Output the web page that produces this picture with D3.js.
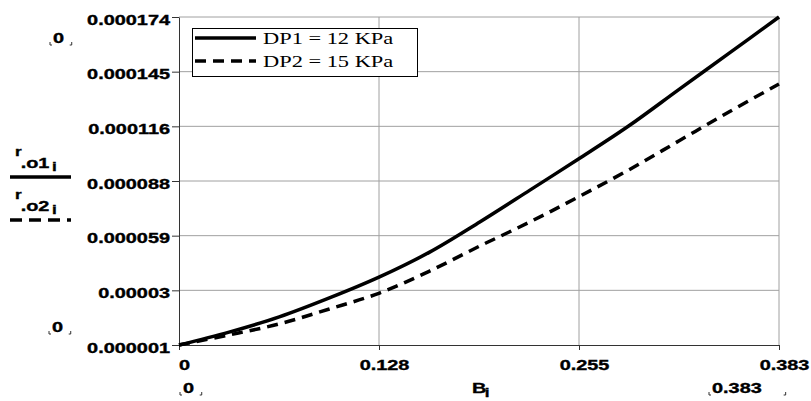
<!DOCTYPE html>
<html>
<head>
<meta charset="utf-8">
<script src="https://cdn.jsdelivr.net/npm/d3@7"></script>
<style>
  body { margin: 0; background: #fff; }
  svg { display: block; }
  .bold { stroke: #000; stroke-width: 0.35px; }
</style>
</head>
<body>
<svg id="chart" width="811" height="401"></svg>
<script>
// values
const bValues = [0, 0.032, 0.064, 0.096, 0.128, 0.160, 0.192, 0.224, 0.255, 0.287, 0.319, 0.351, 0.383]
const ro1 = [0.000001, 0.0000078, 0.0000158, 0.0000258, 0.0000369, 0.0000500, 0.0000659, 0.0000827, 0.0000991, 0.0001165, 0.0001357, 0.0001548, 0.000174]
const ro2 = [0.000001, 0.0000063, 0.0000121, 0.0000200, 0.0000284, 0.0000400, 0.0000532, 0.0000659, 0.0000791, 0.0000933, 0.0001086, 0.0001239, 0.0001387]

const xTicks = [0, 0.383 / 3, 0.383 * 2 / 3, 0.383]
const xTickLabels = ["0", "0.128", "0.255", "0.383"]
const yTicks = d3.range(7).map(i => 0.000001 + i * (0.000173 / 6))
const yTickLabels = ["0.000001", "0.00003", "0.000059", "0.000088", "0.000116", "0.000145", "0.000174"]
const legendLabels = ["DP1 = 12 KPa", "DP2 = 15 KPa"]

const stretchK = 1.42
const sans = "'Liberation Sans', Arial, sans-serif"
const serif = "'Liberation Serif', 'Times New Roman', serif"

const svg = d3.select("#chart")
const x = d3.scaleLinear().domain([0, 0.383]).range([179, 779])
const y = d3.scaleLinear().domain([0.000001, 0.000174]).range([345, 17])

function stretch(sel, k) {
  sel.each(function () {
    const w = this.getComputedTextLength()
    d3.select(this).attr("textLength", w * k).attr("lengthAdjust", "spacingAndGlyphs")
  })
}

// grid
svg.append("g").selectAll("line").data(xTicks.slice(1)).join("line")
  .attr("x1", d => x(d)).attr("x2", d => x(d))
  .attr("y1", y(0.000174)).attr("y2", y(0.000001))
  .attr("stroke", "#a0a0a0").attr("stroke-width", 1)
svg.append("g").selectAll("line").data(yTicks.slice(1)).join("line")
  .attr("x1", x(0)).attr("x2", x(0.383))
  .attr("y1", d => y(d)).attr("y2", d => y(d))
  .attr("stroke", "#a0a0a0").attr("stroke-width", 1)

// axes
const yAxis = svg.append("g")
  .attr("transform", `translate(${x(0)},0)`)
  .call(d3.axisLeft(y).tickValues(yTicks).tickFormat((d, i) => yTickLabels[i]).tickSize(7).tickPadding(2).tickSizeOuter(0))
yAxis.select(".domain").attr("stroke", "#333")
yAxis.selectAll(".tick line").attr("stroke", "#333")
yAxis.selectAll("text")
  .attr("class", "bold")
  .attr("font-family", sans).attr("font-size", 14).attr("font-weight", "bold")
  .attr("fill", "#000").attr("dy", "0.5em")
  .call(stretch, stretchK)

const xAxis = svg.append("g")
  .attr("transform", `translate(0,${y(0.000001)})`)
  .call(d3.axisBottom(x).tickValues(xTicks).tickFormat((d, i) => xTickLabels[i]).tickSize(5).tickPadding(10).tickSizeOuter(0))
xAxis.select(".domain").attr("stroke", "#333")
xAxis.selectAll(".tick line").attr("stroke", "#333")
xAxis.selectAll("text")
  .attr("class", "bold")
  .attr("font-family", sans).attr("font-size", 14).attr("font-weight", "bold")
  .attr("fill", "#000").attr("dx", 5).attr("dy", "0.71em")
  .call(stretch, stretchK)

// curves
const line = d3.line().x((d, i) => x(bValues[i])).y(d => y(d)).curve(d3.curveCatmullRom)
svg.append("path").datum(ro1)
  .attr("d", line).attr("fill", "none")
  .attr("stroke", "#000").attr("stroke-width", 3.5)
svg.append("path").datum(ro2)
  .attr("d", line).attr("fill", "none")
  .attr("stroke", "#000").attr("stroke-width", 3.5)
  .attr("stroke-dasharray", "11,7")

// legend
const lg = svg.append("g")
lg.append("rect").attr("x", 192.5).attr("y", 28.5).attr("width", 225).attr("height", 48)
  .attr("fill", "#fff").attr("stroke", "#000").attr("stroke-width", 1)
legendLabels.forEach((lab, i) => {
  const yy = 38 + i * 23
  lg.append("line").attr("x1", 195).attr("x2", 256).attr("y1", yy).attr("y2", yy)
    .attr("stroke", "#000").attr("stroke-width", 3.5)
    .attr("stroke-dasharray", i === 1 ? "11,7" : null)
  lg.append("text").attr("x", 263).attr("y", yy + 6)
    .attr("font-family", serif).attr("font-size", 16).attr("fill", "#000")
    .text(lab)
    .call(stretch, 1.4)
})

// left-side series labels
function seriesLabel(num, baseY, dashed) {
  const g = svg.append("g").attr("transform", `translate(15,${baseY}) scale(${stretchK},1)`)
    .attr("class", "bold")
  g.append("text").attr("x", 0).attr("y", -12)
    .attr("font-family", sans).attr("font-size", 12).attr("font-weight", "bold").text("r")
  g.append("text").attr("x", 4).attr("y", 0)
    .attr("font-family", sans).attr("font-size", 14).attr("font-weight", "bold").text(".o" + num)
  g.append("text").attr("x", 26).attr("y", 3)
    .attr("font-family", sans).attr("font-size", 12).attr("font-weight", "bold").text("i")
  svg.append("line").attr("x1", 10).attr("x2", 71).attr("y1", baseY + 9).attr("y2", baseY + 9)
    .attr("stroke", "#000").attr("stroke-width", 3.5)
    .attr("stroke-dasharray", dashed ? "12,7" : null)
}
seriesLabel(1, 168, false)
seriesLabel(2, 211, true)

// x-axis title
const xt = svg.append("g").attr("transform", `translate(472,393) scale(${stretchK},1)`).attr("class", "bold")
xt.append("text").attr("font-family", sans).attr("font-size", 14).attr("font-weight", "bold").text("B")
xt.append("text").attr("x", 9).attr("y", 4).attr("font-family", sans).attr("font-size", 12).attr("font-weight", "bold").text("i")

// Mathcad limit placeholders
function placeholder(txt, px, baseY) {
  const t = svg.append("text").attr("x", px).attr("y", baseY)
    .attr("class", "bold")
    .attr("font-family", sans).attr("font-size", 14).attr("font-weight", "bold").attr("fill", "#000")
    .text(txt)
  t.call(stretch, stretchK)
  const w = t.node().getComputedTextLength() * stretchK
  const l = px - 3, r = px + w + 3, b = baseY + 2
  svg.append("path")
    .attr("d", `M${l},${b - 3}V${b}H${l + 2} M${r},${b - 3}V${b}H${r - 2}`)
    .attr("fill", "none").attr("stroke", "#333").attr("stroke-width", 1)
}
placeholder("0", 53, 43)
placeholder("0", 52, 332)
placeholder("0", 183, 393)
placeholder("0.383", 712, 393)
</script>
</body>
</html>
